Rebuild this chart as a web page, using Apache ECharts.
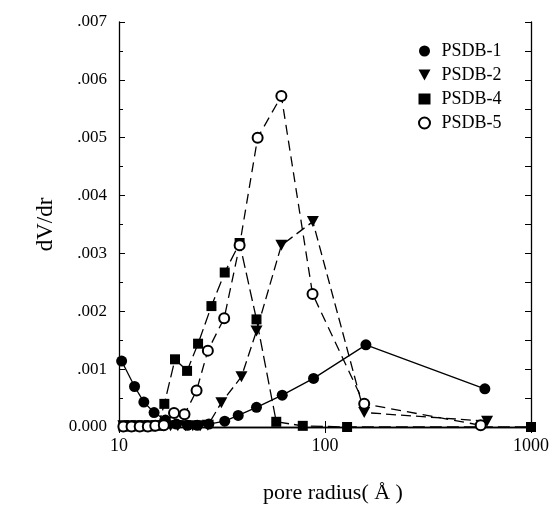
<!DOCTYPE html>
<html>
<head>
<meta charset="utf-8">
<script src="https://cdn.jsdelivr.net/npm/echarts@6/dist/echarts.min.js"></script>
<style>html,body{margin:0;padding:0;background:#fff;}#c{width:558px;height:509px;}</style>
</head>
<body>
<div id="c"></div>
<script>
// PSDB-1 (filled circles, solid line)
const psdb1X = [10.3, 11.9, 13.2, 14.8, 16.8, 19.0, 21.5, 24.0, 27.3, 32.6, 37.9, 46.5, 62, 88, 158, 597];
const psdb1Y = [0.00114, 0.00070, 0.00043, 0.00025, 0.00012, 0.00005, 0.00003, 0.00003, 0.00005, 0.00010, 0.00020, 0.00034, 0.00055, 0.00084, 0.00142, 0.00066];
// PSDB-2 (filled down triangles)
const psdb2X = [10.5, 11.3, 12.2, 13.1, 14.1, 15.2, 16.5, 17.8, 19.3, 21.0, 22.8, 24.8, 27.0, 31.4, 39.3, 46.5, 61.4, 87.3, 155, 612];
const psdb2Y = [0.00002, 0.00002, 0.00002, 0.00002, 0.00002, 0.00002, 0.00002, 0.00002, 0.00002, 0.00002, 0.00002, 0.00002, 0.00003, 0.00042, 0.00087, 0.00166, 0.00314, 0.00355, 0.00025, 0.00010];
// PSDB-4 (filled squares)
const psdb4X = [10.5, 11.3, 12.2, 13.2, 14.3, 15.5, 16.6, 18.7, 21.4, 24.2, 28.1, 32.6, 38.5, 46.5, 58, 78, 128, 1000];
const psdb4Y = [0.00001, 0.00001, 0.00001, 0.00001, 0.00001, 0.00002, 0.00040, 0.00117, 0.00097, 0.00144, 0.00209, 0.00267, 0.00318, 0.00186, 0.00009, 0.00002, 0.00000, 0.00000];
// PSDB-5 (open circles)
const psdb5X = [10.5, 11.5, 12.6, 13.8, 15.0, 16.5, 18.5, 20.8, 23.8, 27.0, 32.4, 38.5, 47.1, 61.4, 87, 155, 570];
const psdb5Y = [0.00001, 0.00001, 0.00001, 0.00001, 0.00002, 0.00003, 0.00024, 0.00022, 0.00063, 0.00132, 0.00188, 0.00314, 0.00500, 0.00572, 0.00230, 0.00040, 0.00003];

const seriesNames = ['PSDB-1', 'PSDB-2', 'PSDB-4', 'PSDB-5'];

const zip = (xs, ys) => xs.map((x, i) => [x, ys[i]]);
const tri = 'path://M0,0 L10,0 L5,9 Z';
const serif = '"Liberation Serif", "DejaVu Serif", serif';

const chart = echarts.init(document.getElementById('c'), null, {renderer: 'canvas'});
const axisLine = {show: true, lineStyle: {color: '#000', width: 1.3}};
chart.setOption({
  animation: false,
  backgroundColor: '#fff',
  grid: {left: 119, right: 27, top: 22, bottom: 81},
  legend: {
    orient: 'vertical', left: 413, top: 37, itemGap: 6, itemWidth: 12, itemHeight: 11,
    textStyle: {fontFamily: serif, fontSize: 18, color: '#000', padding: [0, 0, 0, 6]},
    data: [
      {name: seriesNames[0], icon: 'circle'},
      {name: seriesNames[1], icon: tri},
      {name: seriesNames[2], icon: 'rect'},
      {name: seriesNames[3], icon: 'circle', itemStyle: {color: '#fff', borderColor: '#000', borderWidth: 2}}
    ]
  },
  xAxis: [{
    type: 'log', logBase: 10, min: 10, max: 1000, position: 'bottom',
    name: 'pore radius( Å )', nameLocation: 'middle', nameGap: 55,
    nameTextStyle: {fontFamily: serif, fontSize: 22, color: '#000', padding: [0, 0, 0, 16]},
    axisLine: axisLine,
    axisTick: {inside: true, length: 6, lineStyle: {color: '#000'}},
    axisLabel: {fontFamily: serif, fontSize: 18, color: '#000', margin: 10,
      formatter: v => String(Math.round(v))},
    splitLine: {show: false}
  }, {
    type: 'log', logBase: 10, min: 10, max: 1000, position: 'top',
    axisLine: axisLine,
    axisTick: {inside: true, length: 6, lineStyle: {color: '#000'}},
    axisLabel: {show: false}, splitLine: {show: false}
  }],
  yAxis: [{
    type: 'value', min: 0, max: 0.007, interval: 0.001,
    name: 'dV/dr', nameLocation: 'middle', nameGap: 57, nameRotate: 90,
    nameTextStyle: {fontFamily: serif, fontSize: 23, color: '#000'},
    axisLine: axisLine,
    axisTick: {inside: true, length: 6, lineStyle: {color: '#000'}},
    minorTick: {show: true, splitNumber: 2, length: 4, lineStyle: {color: '#000'}},
    axisLabel: {fontFamily: serif, fontSize: 17, color: '#000', margin: 12,
      formatter: v => (Math.abs(v) < 1e-12 ? '0.000' : v.toFixed(3).replace(/^0/, ''))},
    splitLine: {show: false}
  }, {
    type: 'value', min: 0, max: 0.007, interval: 0.0005, position: 'right',
    axisLine: axisLine,
    axisTick: {inside: true, length: 6, lineStyle: {color: '#000'}},
    axisLabel: {show: false}, splitLine: {show: false}
  }],
  series: [
    {name: seriesNames[0], type: 'line', data: zip(psdb1X, psdb1Y), symbol: 'circle', symbolSize: 11,
     itemStyle: {color: '#000'}, lineStyle: {color: '#000', width: 1.3, type: 'solid'}, z: 3},
    {name: seriesNames[1], type: 'line', data: zip(psdb2X, psdb2Y), symbol: tri, symbolSize: [12, 11],
     itemStyle: {color: '#000'}, lineStyle: {color: '#000', width: 1.3, type: [10, 5]}, z: 3},
    {name: seriesNames[2], type: 'line', data: zip(psdb4X, psdb4Y), symbol: 'rect', symbolSize: 10,
     itemStyle: {color: '#000'}, lineStyle: {color: '#000', width: 1.3, type: [12, 5]}, z: 3},
    {name: seriesNames[3], type: 'line', data: zip(psdb5X, psdb5Y), symbol: 'circle', symbolSize: 10,
     itemStyle: {color: '#fff', borderColor: '#000', borderWidth: 2},
     lineStyle: {color: '#000', width: 1.3, type: [10, 6]}, z: 4}
  ]
});
</script>
</body>
</html>
